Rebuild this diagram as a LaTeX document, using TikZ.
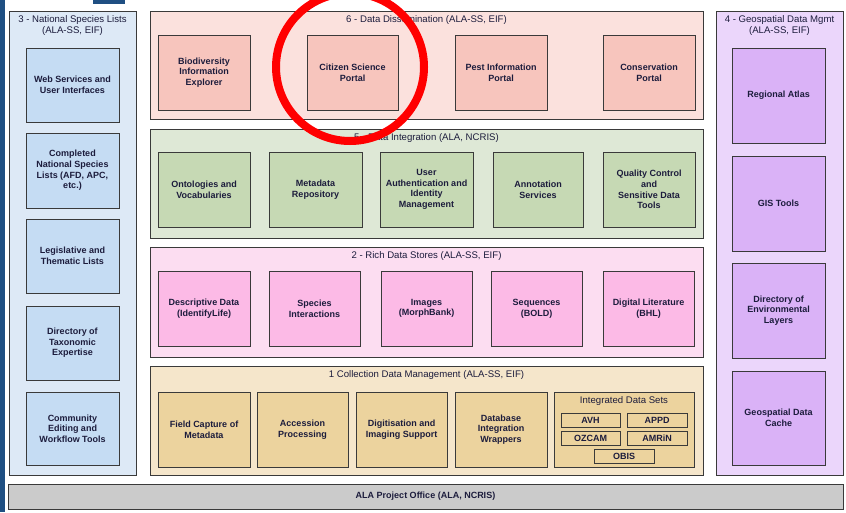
\documentclass[tikz,border=0pt]{standalone}
\usepackage{fontspec}
\setmainfont{Liberation Sans}
\definecolor{bordc}{HTML}{3A3A3A}
\definecolor{txtc}{HTML}{1C1C3C}
\definecolor{stripc}{HTML}{1F4F82}
\definecolor{sixo}{HTML}{FBE1DD}
\definecolor{sixb}{HTML}{F7C5BD}
\definecolor{fiveo}{HTML}{DEE8D6}
\definecolor{fiveb}{HTML}{C6D9B4}
\definecolor{twoo}{HTML}{FCDDF1}
\definecolor{twob}{HTML}{FCBAE6}
\definecolor{oneo}{HTML}{F5E6CB}
\definecolor{oneb}{HTML}{ECD39E}
\definecolor{threeo}{HTML}{DDE9F6}
\definecolor{threeb}{HTML}{C5DCF3}
\definecolor{fouro}{HTML}{EBD6FB}
\definecolor{fourb}{HTML}{DAB2F7}
\definecolor{officec}{HTML}{CBCBCB}
\newcommand{\rbox}[7]{\node[rect, fill=#6, minimum width={#4pt-#2pt}, minimum height={#5pt-#3pt}] (#1) at (#2,#3) {#7};}
\begin{document}
\begin{tikzpicture}[x=1pt,y=-1pt,
  rect/.style={draw=bordc, line width=0.9pt, inner sep=1pt, outer sep=0pt, align=center,
    anchor=north west, text=txtc, font=\bfseries\fontsize{9}{10.6}\selectfont},
  ttl/.style={text=txtc, inner sep=0pt, align=center, font=\fontsize{9.6}{10.8}\selectfont},
  redring/.style={draw=red, line width=8pt}]
\useasboundingbox (0,0) rectangle (846,512);
\fill[white] (0,0) rectangle (846,512);
\fill[stripc] (0,0) rectangle (5,512);
\fill[stripc] (93,0) rectangle (125,4);

% Panel 3
\rbox{p3}{9}{11}{136}{475}{threeo}{}
\node[ttl] (t3) at (72.5,25.5) {3 - National Species Lists\\(ALA-SS, EIF)};
\rbox{b31}{26}{48}{119}{122}{threeb}{Web Services and\\User Interfaces}
\rbox{b32}{26}{133}{119}{208}{threeb}{Completed\\National Species\\Lists (AFD, APC,\\etc.)}
\rbox{b33}{26}{219}{119}{293}{threeb}{Legislative and\\Thematic Lists}
\rbox{b34}{26}{306}{119}{380}{threeb}{Directory of\\Taxonomic\\Expertise}
\rbox{b35}{26}{392}{119}{465}{threeb}{Community\\Editing and\\Workflow Tools}

% Layer 6
\rbox{p6}{150}{11}{703}{119}{sixo}{}
\node[ttl] (t6) at (426.5,20) {6 - Data Dissemination (ALA-SS, EIF)};
\rbox{b61}{158}{35}{250}{110}{sixb}{Biodiversity\\Information\\Explorer}
\rbox{b62}{307}{35}{398}{110}{sixb}{Citizen Science\\Portal}
\rbox{b63}{455}{35}{547}{110}{sixb}{Pest Information\\Portal}
\rbox{b64}{603}{35}{695}{110}{sixb}{Conservation\\Portal}

% Layer 5
\rbox{p5}{150}{129}{703}{238}{fiveo}{}
\node[ttl] (t5) at (426.5,138) {5 - Data Integration (ALA, NCRIS)};
\rbox{b51}{158}{152}{250}{227}{fiveb}{Ontologies and\\Vocabularies}
\rbox{b52}{269}{152}{362}{227}{fiveb}{Metadata\\Repository}
\rbox{b53}{380}{152}{473}{227}{fiveb}{User\\Authentication and\\Identity\\Management}
\rbox{b54}{493}{152}{583}{227}{fiveb}{Annotation\\Services}
\rbox{b55}{603}{152}{695}{227}{fiveb}{Quality Control\\and\\Sensitive Data\\Tools}

% Layer 2
\rbox{p2}{150}{247}{703}{357}{twoo}{}
\node[ttl] (t2) at (426.5,256) {2 - Rich Data Stores (ALA-SS, EIF)};
\rbox{b21}{158}{271}{250}{346}{twob}{Descriptive Data\\(IdentifyLife)}
\rbox{b22}{269}{271}{360}{346}{twob}{Species\\Interactions}
\rbox{b23}{381}{271}{472}{346}{twob}{Images\\(MorphBank)}
\rbox{b24}{491}{271}{582}{346}{twob}{Sequences\\(BOLD)}
\rbox{b25}{603}{271}{694}{346}{twob}{Digital Literature\\(BHL)}

% Layer 1
\rbox{p1}{150}{366}{703}{475}{oneo}{}
\node[ttl] (t1) at (426.5,375) {1 Collection Data Management (ALA-SS, EIF)};
\rbox{b11}{158}{392}{250}{467}{oneb}{Field Capture of\\Metadata}
\rbox{b12}{257}{392}{348}{467}{oneb}{Accession\\Processing}
\rbox{b13}{356}{392}{447}{467}{oneb}{Digitisation and\\Imaging Support}
\rbox{b14}{455}{392}{547}{467}{oneb}{Database\\Integration\\Wrappers}
\rbox{b15}{554}{392}{694}{467}{oneb}{}
\node[ttl] (t15) at (624,401) {Integrated Data Sets};
\rbox{d1}{561}{413}{620}{427}{oneb}{AVH}
\rbox{d2}{627}{413}{687}{427}{oneb}{APPD}
\rbox{d3}{561}{431}{620}{445}{oneb}{OZCAM}
\rbox{d4}{627}{431}{687}{445}{oneb}{AMRiN}
\rbox{d5}{594}{449}{654}{463}{oneb}{OBIS}

% Panel 4
\rbox{p4}{716}{11}{843}{475}{fouro}{}
\node[ttl] (t4) at (779.5,25.5) {4 - Geospatial Data Mgmt\\(ALA-SS, EIF)};
\rbox{b41}{732}{48}{825}{143}{fourb}{Regional Atlas}
\rbox{b42}{732}{156}{825}{251}{fourb}{GIS Tools}
\rbox{b43}{732}{263}{825}{358}{fourb}{Directory of\\Environmental\\Layers}
\rbox{b44}{732}{371}{825}{465}{fourb}{Geospatial Data\\Cache}

% Project office
\rbox{po}{8}{484}{843}{509}{officec}{ALA Project Office (ALA, NCRIS)}

% Red highlight circle
\draw[redring] (350,67) circle[radius=74pt];
\end{tikzpicture}
\end{document}
